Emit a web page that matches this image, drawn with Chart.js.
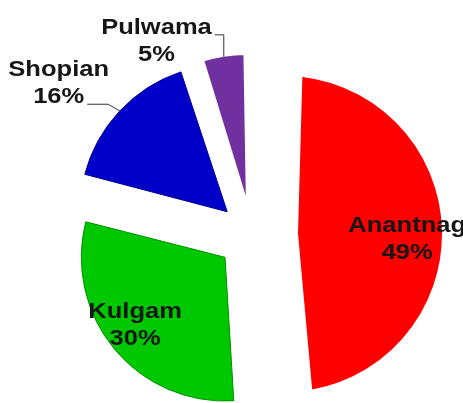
<!DOCTYPE html>
<html><head><meta charset="utf-8">
<script src="https://cdn.jsdelivr.net/npm/chart.js@4.4.1/dist/chart.umd.min.js"></script>
<style>html,body{margin:0;padding:0;background:#fff;overflow:hidden}#wrap{width:463px;height:403px}</style>
</head><body><div id="wrap"><canvas id="c" width="463" height="403"></canvas></div>
<script>
// ---- data ----
const districts = ['Anantnag', 'Kulgam', 'Shopian', 'Pulwama'];
const shares = [49, 30, 16, 5];
const percentLabels = ['49%', '30%', '16%', '5%'];

// ---- styles ----
const sliceColors = ['#ff0000', '#00c800', '#0000c8', '#7030a0'];
const sliceEdges = ['#ffffff', '#009000', '#000090', '#ffffff'];
const sliceBorderWidths = [28, 1, 1, 4.4];
const sliceOffsets = [128, 140, 136, 96];
const BASE_RADIUS = 142;
const labelLayout = [
  {mode: 'inside', r: 0.78, rot: 3.2},
  {mode: 'inside', r: 0.78, rot: 3.2},
  {mode: 'outside', elbow: [-12, -7], tail: -21, anchorLine: 1},
  {mode: 'outside', elbow: [0, -22], tail: -9, anchorLine: 0}
];
const FONT = 'bold 22px "Liberation Sans", Arial, sans-serif';
const SX = 1.16;      // horizontal text stretch
const LINE_GAP = 27;
const TEXT_COLOR = '#161616';

function drawText(ctx, text, cx, baseline) {
  ctx.save();
  ctx.translate(cx, baseline);
  ctx.scale(SX, 1);
  ctx.textAlign = 'center';
  ctx.textBaseline = 'alphabetic';
  ctx.fillText(text, 0, 0);
  ctx.restore();
}

// visible geometry of an exploded slice as the ArcElement draws it
function arcGeometry(arc) {
  const p = arc.getProps(['x', 'y', 'startAngle', 'endAngle', 'outerRadius', 'circumference'], true);
  const o = (arc.options.offset || 0) / 4;
  const fix = 1 - Math.sin(Math.min(Math.PI, p.circumference || 0));
  const inset = (arc.options.borderWidth || 0) / 2;
  const mid = (p.startAngle + p.endAngle) / 2;
  return {
    mid,
    cx: p.x + Math.cos(mid) * o,
    cy: p.y + Math.sin(mid) * o,
    R: p.outerRadius + o * fix - inset
  };
}

const labelPlugin = {
  id: 'sliceLabels',
  afterDatasetsDraw(chart) {
    const ctx = chart.ctx;
    const meta = chart.getDatasetMeta(0);
    ctx.save();
    ctx.font = FONT;
    ctx.fillStyle = TEXT_COLOR;
    meta.data.forEach((arc, i) => {
      const g = arcGeometry(arc);
      const lines = [districts[i], percentLabels[i]];
      const lay = labelLayout[i];
      if (lay.mode === 'inside') {
        const a = g.mid + lay.rot * Math.PI / 180;
        const lx = g.cx + Math.cos(a) * g.R * lay.r;
        const ly = g.cy + Math.sin(a) * g.R * lay.r;
        drawText(ctx, lines[0], lx, ly - LINE_GAP / 2 + 8);
        drawText(ctx, lines[1], lx, ly + LINE_GAP / 2 + 8);
      } else {
        const px = g.cx + Math.cos(g.mid) * g.R;
        const py = g.cy + Math.sin(g.mid) * g.R;
        const ex = px + lay.elbow[0], ey = py + lay.elbow[1];
        const tx = ex + lay.tail, ty = ey;
        ctx.save();
        ctx.strokeStyle = '#333';
        ctx.lineWidth = 1;
        ctx.beginPath();
        ctx.moveTo(px, py);
        ctx.lineTo(ex, ey);
        ctx.lineTo(tx, ty);
        ctx.stroke();
        ctx.restore();
        const aw = ctx.measureText(lines[lay.anchorLine]).width * SX;
        const centerX = tx - 3 - aw / 2;
        const baseA = ty - 1;
        lines.forEach((t, k) => {
          drawText(ctx, t, centerX, baseA + (k - lay.anchorLine) * LINE_GAP);
        });
      }
    });
    ctx.restore();
  }
};

new Chart(document.getElementById('c'), {
  type: 'pie',
  data: {
    labels: districts,
    datasets: [{
      data: shares,
      backgroundColor: sliceColors,
      borderColor: sliceEdges,
      borderWidth: sliceBorderWidths,
      offset: sliceOffsets,
      radius: BASE_RADIUS
    }]
  },
  options: {
    responsive: false,
    animation: false,
    devicePixelRatio: 1,
    events: [],
    layout: {padding: {left: 41, top: 67, right: 0, bottom: 0}},
    plugins: {legend: {display: false}, tooltip: {enabled: false}}
  },
  plugins: [labelPlugin]
});
</script>
</body></html>
